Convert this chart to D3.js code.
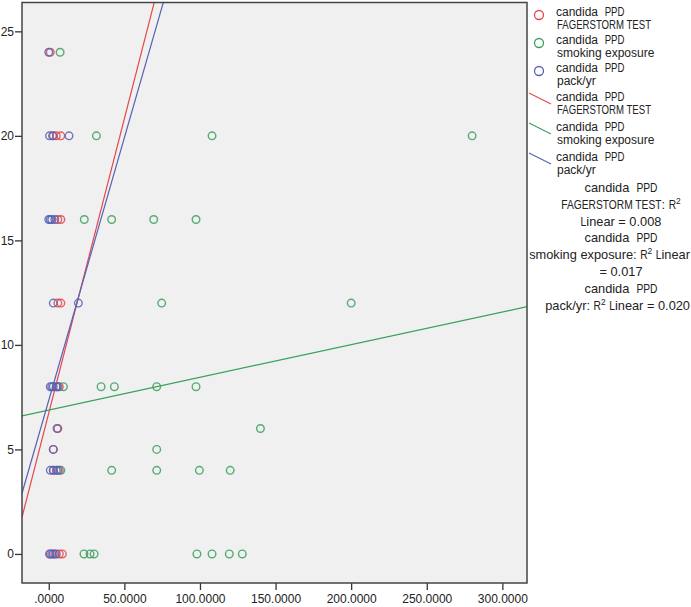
<!doctype html>
<html lang="en">
<head>
    <meta charset="utf-8">
    <title>candida PPD scatter</title>
    <style type="text/css">
        html, body {
            margin: 0;
            padding: 0;
            background-color: #fff;
            overflow: hidden;
        }
        text {
            font-family: "Liberation Sans", Arial, sans-serif;
            fill: #222;
            white-space: pre;
        }
    </style>
</head>
<body>
    <svg id="chart" width="691" height="607"></svg>

    <script src="https://cdn.jsdelivr.net/npm/d3@7"></script>
    <script>
        // series names, colours, and fit lines
        const seriesNames = ["FAGERSTORM TEST", "smoking exposure", "pack/yr"];
        const seriesColors = ["#e4474d", "#38a05c", "#5662b5"];
        const fitIntercept = [6.74, 6.885, 7.35];
        const fitSlope = [0.2816, 0.01563, 0.2512];
        const fitR2 = ["0.008", "0.017", "0.020"];

        // x = predictor, y = candida PPD
        const fagerX = [1, 3, 5, 8, 6, 8, 6, 8, 5, 7, 6, 3, 3, 7, 1, 4, 7, 9];
        const fagerY = [24, 20, 20, 20, 16, 16, 12, 12, 8, 8, 6, 5, 4, 4, 0, 0, 0, 0];

        const smokeX = [7.5, 31.5, 108, 280, 23.5, 41.6, 69.4, 97.4, 74.7, 200,
                        9.7, 34.6, 43.4, 71.4, 97.4, 140, 71.4, 8, 41.6, 71.4, 99.6, 120,
                        23.3, 27.3, 30, 98, 108, 119.4, 128];
        const smokeY = [24, 20, 20, 20, 16, 16, 16, 16, 12, 12,
                        8, 8, 8, 8, 8, 6, 5, 4, 4, 4, 4, 4,
                        0, 0, 0, 0, 0, 0, 0];

        const packX = [0, 0.5, 2.5, 13.4, 0, 1, 2, 4, 3, 19.6, 1, 2, 3, 5, 6, 5.5, 3, 1, 3, 5, 6, 0.5, 2, 3, 5];
        const packY = [24, 20, 20, 20, 16, 16, 16, 16, 12, 12, 8, 8, 8, 8, 8, 6, 5, 4, 4, 4, 4, 0, 0, 0, 0];

        const xTicks = [0, 50, 100, 150, 200, 250, 300];
        const yTicks = [0, 5, 10, 15, 20, 25];
        const xDomain = [-17.7, 316.3];
        const yDomain = [-1.39, 26.38];

        const svg = d3.select("#chart");
        const margin = {top: 2.5, right: 164, bottom: 24, left: 22};
        const width = 691 - margin.left - margin.right;
        const height = 607 - margin.top - margin.bottom;

        const x = d3.scaleLinear().domain(xDomain).range([0, width]);
        const y = d3.scaleLinear().domain(yDomain).range([height, 0]);

        const g = svg.append("g")
            .attr("transform", `translate(${margin.left},${margin.top})`);

        g.append("clipPath").attr("id", "plot-clip")
            .append("rect").attr("width", width).attr("height", height);

        g.append("rect")
            .attr("width", width)
            .attr("height", height)
            .attr("fill", "#f0f0f0");

        // axes
        let xAxis = g.append("g")
            .attr("transform", `translate(0,${height})`)
            .call(d3.axisBottom(x).tickValues(xTicks).tickSize(7).tickPadding(4)
                .tickFormat(d => d === 0 ? ".0000" : d3.format(".4f")(d)));
        let yAxis = g.append("g")
            .call(d3.axisLeft(y).tickValues(yTicks).tickSize(7).tickPadding(1));

        [xAxis, yAxis].forEach(a => {
            a.select(".domain").remove();
            a.selectAll("line").attr("stroke", "#333").attr("stroke-width", 1.3);
            a.selectAll("text")
                .style("font-family", "'Liberation Sans', Arial, sans-serif")
                .style("font-size", "12px")
                .attr("fill", "#222");
        });

        const series = [
            {xs: fagerX, ys: fagerY},
            {xs: smokeX, ys: smokeY},
            {xs: packX, ys: packY}
        ];

        const plot = g.append("g").attr("clip-path", "url(#plot-clip)");

        // fit lines
        series.forEach((s, i) => {
            let pts = xDomain.map(v => [v, fitIntercept[i] + fitSlope[i] * v]);
            plot.append("path")
                .attr("d", d3.line().x(d => x(d[0])).y(d => y(d[1]))(pts))
                .attr("fill", "none")
                .attr("stroke", seriesColors[i])
                .attr("stroke-width", 1.2);
        });

        // points
        series.forEach((s, i) => {
            plot.append("g").selectAll("circle")
                .data(s.xs.map((v, j) => [v, s.ys[j]]))
                .enter().append("circle")
                .attr("cx", d => x(d[0]))
                .attr("cy", d => y(d[1]))
                .attr("r", 3.8)
                .attr("fill", "none")
                .attr("stroke", seriesColors[i])
                .attr("stroke-opacity", 0.85)
                .attr("stroke-width", 1.4);
        });

        g.append("rect")
            .attr("width", width)
            .attr("height", height)
            .attr("fill", "none")
            .attr("stroke", "#444")
            .attr("stroke-width", 1.5);

        const capsRe = /([A-Z]+(?: [A-Z]+)*)/;
        const capsScale = 0.8;

        // lays a line out as separate runs: capitals squeezed (narrow face in the
        // original), "^2" raised as a superscript
        function textLine(parent, str, x0, y0, size, anchor) {
            let items = [];
            str.split(/\^(\d)/).forEach((seg, s) => {
                if (seg === "") return;
                if (s % 2 === 1) {
                    items.push({text: seg, sup: true});
                    return;
                }
                seg.split(capsRe).forEach((run, r) => {
                    if (run !== "") items.push({text: run, caps: r % 2 === 1});
                });
            });

            let total = 0;
            items.forEach(it => {
                it.el = parent.append("text")
                    .style("font-size", (it.sup ? size * 0.66 : size) + "px")
                    .text(it.text);
                let w = it.el.node().getComputedTextLength();
                it.w = it.caps ? w * capsScale : w;
                total += it.w;
            });

            let start = anchor === "middle" ? x0 - total / 2 : x0;
            if (start + total > 690) start = 690 - total;
            items.forEach(it => {
                let yy = it.sup ? y0 - 5 : y0;
                let sx = it.caps ? capsScale : 1;
                it.el.attr("transform", `translate(${start},${yy}) scale(${sx},1)`);
                start += it.w;
            });
        }

        // legend
        const legend = svg.append("g");
        const markerRows = [16, 44, 72];
        const lineRows = [101, 131, 161];

        seriesNames.forEach((name, i) => {
            legend.append("circle")
                .attr("cx", 539).attr("cy", markerRows[i] - 1)
                .attr("r", 4.5)
                .attr("fill", "none")
                .attr("stroke", seriesColors[i])
                .attr("stroke-width", 1.3);
            textLine(legend, "candida  PPD", 556, markerRows[i], 12, "start");
            textLine(legend, name, 557, markerRows[i] + 13, 12, "start");

            legend.append("line")
                .attr("x1", 529).attr("y1", lineRows[i] - 8)
                .attr("x2", 551).attr("y2", lineRows[i] + 3)
                .attr("stroke", seriesColors[i])
                .attr("stroke-width", 1.2);
            textLine(legend, "candida  PPD", 556, lineRows[i], 12, "start");
            textLine(legend, name, 557, lineRows[i] + 13, 12, "start");
        });

        // R2 notes, centred and pushed left if they run off
        const noteLines = [
            "candida  PPD", seriesNames[0] + ": R^2", "Linear = " + fitR2[0],
            "candida  PPD", seriesNames[1] + ": R^2 Linear", "= " + fitR2[1],
            "candida  PPD", seriesNames[2] + ": R^2 Linear = " + fitR2[2]
        ];
        noteLines.forEach((line, i) => {
            textLine(legend, line, 621, 192 + i * 16.8, 12.8, "middle");
        });
    </script>
</body>
</html>
